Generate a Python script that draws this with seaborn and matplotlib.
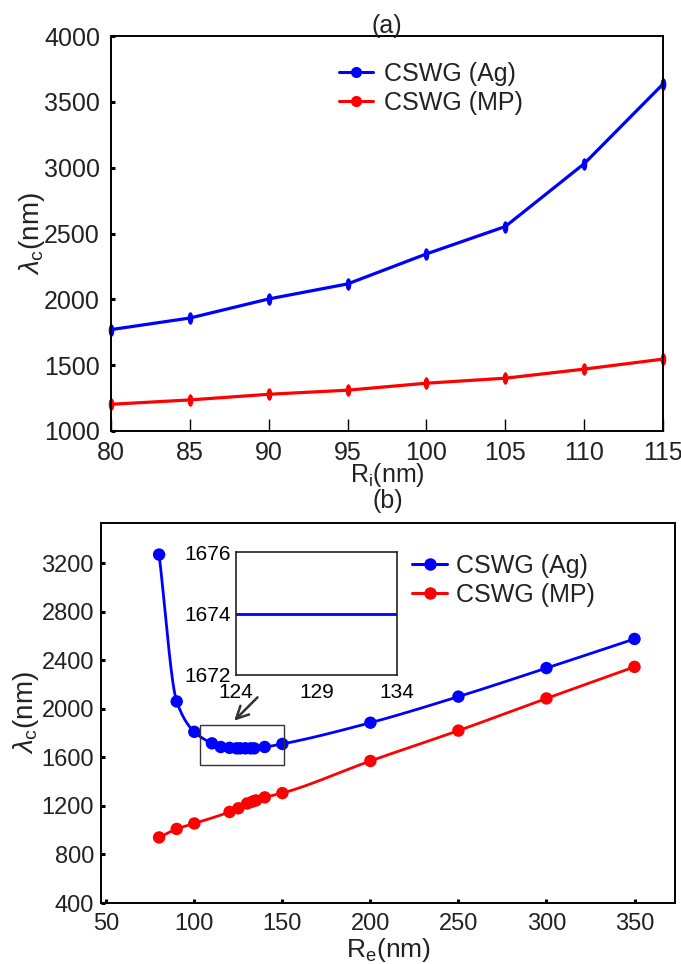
import numpy as np
import pandas as pd
import seaborn as sns
import matplotlib
matplotlib.use("Agg")
import matplotlib.pyplot as plt
from matplotlib.path import Path
from matplotlib.patches import Rectangle
from matplotlib.lines import Line2D

# ---------------- data ----------------
ri_nm = [80, 85, 90, 95, 100, 105, 110, 115]
ag_a = [1770, 1858, 2003, 2117, 2345, 2553, 3030, 3635]
mp_a = [1203, 1236, 1279, 1310, 1363, 1401, 1470, 1546]

re_ag = [80, 90, 100, 110, 115, 120, 124, 126, 129, 132, 134, 140, 150, 200, 250, 300, 350]
ag_b = [3270, 2060, 1810, 1715, 1685, 1678, 1674, 1674, 1674, 1674, 1674, 1685, 1710, 1885, 2100, 2335, 2575]
re_mp = [80, 90, 100, 120, 125, 130, 133, 135, 140, 150, 200, 250, 300, 350]
mp_b = [940, 1010, 1055, 1150, 1180, 1220, 1235, 1245, 1270, 1305, 1570, 1820, 2085, 2345]

inset_x = [124, 134]
inset_y = [1674, 1674]

labels = ["CSWG (Ag)", "CSWG (MP)"]
yticks_a = [1000, 1500, 2000, 2500, 3000, 3500, 4000]
xticks_a = [80, 85, 90, 95, 100, 105, 110, 115]
yticks_b = [400, 800, 1200, 1600, 2000, 2400, 2800, 3200]
xticks_b = [50, 100, 150, 200, 250, 300, 350]

# ---------------- style ----------------
sns.set_theme(style="white")
plt.rcParams["font.family"] = ["Liberation Sans", "DejaVu Sans"]
plt.rcParams["mathtext.fontset"] = "custom"
plt.rcParams["mathtext.rm"] = "Liberation Sans"
plt.rcParams["mathtext.it"] = "Liberation Sans:italic"
plt.rcParams["mathtext.sf"] = "Liberation Sans"
TXT = "#222222"
BLUE = "#0000FF"
RED = "#FF0000"


def pchip(x, y, xs):
    x = np.asarray(x, float)
    y = np.asarray(y, float)
    h = np.diff(x)
    d = np.diff(y) / h
    n = len(x)
    m = np.zeros(n)
    m[0], m[-1] = d[0], d[-1]
    for k in range(1, n - 1):
        if d[k - 1] * d[k] <= 0:
            m[k] = 0.0
        else:
            w1 = 2 * h[k] + h[k - 1]
            w2 = h[k] + 2 * h[k - 1]
            m[k] = (w1 + w2) / (w1 / d[k - 1] + w2 / d[k])
    idx = np.clip(np.searchsorted(x, xs) - 1, 0, n - 2)
    t = (xs - x[idx]) / h[idx]
    h00 = 2 * t**3 - 3 * t**2 + 1
    h10 = t**3 - 2 * t**2 + t
    h01 = -2 * t**3 + 3 * t**2
    h11 = t**3 - t**2
    return h00 * y[idx] + h10 * h[idx] * m[idx] + h01 * y[idx + 1] + h11 * h[idx] * m[idx + 1]


circ = Path.unit_circle()
ellipse = Path(circ.vertices * np.array([0.45, 1.0]), circ.codes)

fig = plt.figure(figsize=(6.81, 9.64), dpi=100)
fig.patch.set_facecolor("white")

# ---------------- panel (a) ----------------
ax1 = fig.add_axes([111 / 681, 1 - 431 / 964, (663 - 111) / 681, (431 - 36) / 964])
df_a = pd.DataFrame({"Ri": ri_nm, "Ag": ag_a, "MP": mp_a})
sns.lineplot(data=df_a, x="Ri", y="Ag", ax=ax1, color=BLUE, lw=2.3,
             marker=ellipse, markersize=9, markeredgewidth=0, clip_on=False)
sns.lineplot(data=df_a, x="Ri", y="MP", ax=ax1, color=RED, lw=2.3,
             marker=ellipse, markersize=9, markeredgewidth=0, clip_on=False)
ax1.set_xlim(80, 115)
ax1.set_ylim(1000, 4000)
ax1.set_xticks(xticks_a)
ax1.set_yticks(yticks_a)
ax1.tick_params(axis="x", direction="in", length=9, width=1.0, colors="black",
                labelcolor=TXT, labelsize=18, pad=7, bottom=True, top=False)
ax1.tick_params(axis="y", direction="in", length=3, width=2.2, colors="black",
                labelcolor=TXT, labelsize=18, pad=8, left=True, right=False)
ax1.set_xlabel(r"R$_{\rm i}$(nm)", fontsize=18, color=TXT, labelpad=-3)
ax1.set_ylabel(r"$\lambda_{\rm c}$(nm)", fontsize=20, color=TXT, labelpad=-2)
ax1.set_title("(a)", fontsize=18, color=TXT, pad=2)
for s in ax1.spines.values():
    s.set_color("black")
    s.set_linewidth(1.4)

h_a = [Line2D([], [], color=BLUE, lw=2.2, marker="o", ms=8, mew=0),
       Line2D([], [], color=RED, lw=2.2, marker="o", ms=8, mew=0)]
leg1 = ax1.legend(h_a, labels, loc="upper left", bbox_to_anchor=(339 / 681, 1 - 62 / 964),
                  bbox_transform=fig.transFigure, frameon=False, fontsize=18,
                  handlelength=1.35, handletextpad=0.45, labelspacing=0.2,
                  borderpad=0, borderaxespad=0)
for t in leg1.get_texts():
    t.set_color(TXT)

# ---------------- panel (b) ----------------
ax2 = fig.add_axes([101 / 681, 1 - 903 / 964, (675 - 101) / 681, (903 - 523) / 964])
xs_ag = np.linspace(min(re_ag), max(re_ag), 800)
xs_mp = np.linspace(min(re_mp), max(re_mp), 800)
sns.lineplot(x=xs_ag, y=pchip(re_ag, ag_b, xs_ag), ax=ax2, color=BLUE, lw=2.0, sort=False)
sns.lineplot(x=xs_mp, y=pchip(re_mp, mp_b, xs_mp), ax=ax2, color=RED, lw=2.0, sort=False)
sns.scatterplot(x=re_ag, y=ag_b, ax=ax2, color=BLUE, s=80, edgecolor="none", zorder=3)
sns.scatterplot(x=re_mp, y=mp_b, ax=ax2, color=RED, s=80, edgecolor="none", zorder=3)
ax2.set_xlim(47, 373)
ax2.set_ylim(400, 3530)
ax2.set_xticks(xticks_b)
ax2.set_yticks(yticks_b)
ax2.tick_params(axis="both", direction="in", length=3, width=2.2, colors="black",
                labelcolor=TXT, labelsize=17, bottom=True, left=True, top=False, right=False)
ax2.tick_params(axis="x", pad=7)
ax2.tick_params(axis="y", pad=5)
ax2.set_xlabel(r"R$_{\rm e}$(nm)", fontsize=19, color=TXT, labelpad=1)
ax2.set_ylabel(r"$\lambda_{\rm c}$(nm)", fontsize=20, color=TXT, labelpad=0)
ax2.set_title("(b)", fontsize=18, color=TXT, pad=11)
for s in ax2.spines.values():
    s.set_color("black")
    s.set_linewidth(1.4)

ax2.add_patch(Rectangle((103, 1540), 48, 330, fill=False, ec="#333333", lw=1.0, zorder=4))
ax2.annotate("", xy=(121.5, 1885), xytext=(137, 2110),
             arrowprops=dict(arrowstyle="->", color="#333333", lw=1.8, mutation_scale=22))

h_b = [Line2D([], [], color=BLUE, lw=2.2, marker="o", ms=9, mew=0),
       Line2D([], [], color=RED, lw=2.2, marker="o", ms=9, mew=0)]
leg2 = ax2.legend(h_b, labels, loc="upper left", bbox_to_anchor=(412 / 681, 1 - 554 / 964),
                  bbox_transform=fig.transFigure, frameon=False, fontsize=18,
                  handlelength=1.4, handletextpad=0.35, labelspacing=0.2,
                  borderpad=0, borderaxespad=0)
for t in leg2.get_texts():
    t.set_color(TXT)

# ---------------- inset ----------------
axi = fig.add_axes([236 / 681, 1 - 675 / 964, (397 - 236) / 681, (675 - 552) / 964])
sns.lineplot(x=inset_x, y=inset_y, ax=axi, color=BLUE, lw=2.0)
axi.set_xlim(124, 134)
axi.set_ylim(1672, 1676)
axi.set_xticks([124, 129, 134])
axi.set_yticks([1672, 1674, 1676])
axi.tick_params(axis="both", length=0, labelsize=15, labelcolor="black")
axi.tick_params(axis="x", pad=6)
axi.tick_params(axis="y", pad=4)
axi.set_xlabel("")
axi.set_ylabel("")
for s in axi.spines.values():
    s.set_color("#222222")
    s.set_linewidth(1.2)

fig.savefig("out.png", dpi=100, facecolor="white")
